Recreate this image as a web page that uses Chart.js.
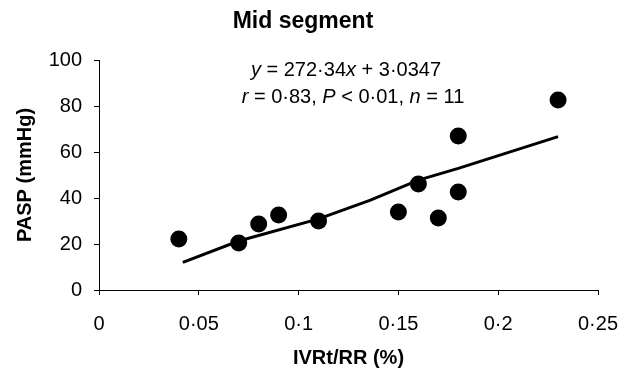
<!DOCTYPE html>
<html>
<head>
<meta charset="utf-8">
<script src="https://cdn.jsdelivr.net/npm/chart.js@4.4.1/dist/chart.umd.min.js"></script>
<style>
  html, body { margin: 0; padding: 0; background: #fff; }
  #wrap { width: 631px; height: 373px; }
</style>
</head>
<body>
<div id="wrap"><canvas id="chart" width="631" height="373"></canvas></div>
<script>
// IVRt/RR vs PASP, mid segment
const ivrtRR = [0.04, 0.07, 0.08, 0.09, 0.11, 0.15, 0.16, 0.17, 0.18, 0.18, 0.23];
const pasp = [22.2, 20.4, 28.7, 32.6, 30.0, 33.9, 46.1, 31.3, 67.0, 42.6, 82.6];

// regression line
const fitX = [0.042, 0.07, 0.11, 0.136, 0.16, 0.18, 0.23];
const fitY = [12.0, 21.3, 30.9, 39.1, 47.8, 52.9, 66.7];

const chartTitle = 'Mid segment';
const xTitle = 'IVRt/RR (%)';
const yTitle = 'PASP (mmHg)';

const FONT = '"Liberation Sans", Arial, sans-serif';

function dotFormat(v) {
  return String(Number(v.toFixed(2))).replace('.', '\u00b7');
}

// draws runs of [text, italic] left to right, centred on cx
function drawRuns(ctx, runs, cx, cy, size) {
  const fonts = runs.map(([, it]) => (it ? 'italic ' : '') + size + 'px ' + FONT);
  let total = 0;
  const widths = runs.map(([t], i) => {
    ctx.font = fonts[i];
    const w = ctx.measureText(t).width;
    total += w;
    return w;
  });
  let x = cx - total / 2;
  runs.forEach(([t], i) => {
    ctx.font = fonts[i];
    ctx.fillText(t, x, cy);
    x += widths[i];
  });
}

const annotations = {
  id: 'annotations',
  afterDraw(chart) {
    const { ctx } = chart;
    ctx.save();
    ctx.fillStyle = '#000';
    ctx.textBaseline = 'middle';
    ctx.textAlign = 'center';
    ctx.font = 'bold 23px ' + FONT;
    ctx.fillText(chartTitle, 303, 22);
    ctx.textAlign = 'left';
    drawRuns(ctx, [['y', true], [' = 272\u00b734', false], ['x', true], [' + 3\u00b70347', false]], 346, 70, 20);
    drawRuns(ctx, [['r', true], [' = 0\u00b783, ', false], ['P', true], [' < 0\u00b701, ', false], ['n', true], [' = 11', false]], 353, 97, 20);
    ctx.restore();
  },
};

new Chart(document.getElementById('chart'), {
  type: 'scatter',
  data: {
    datasets: [
      {
        label: 'PASP',
        data: ivrtRR.map((x, i) => ({ x, y: pasp[i] })),
        backgroundColor: '#000',
        borderWidth: 0,
        pointRadius: 8.5,
        pointHoverRadius: 8.5,
      },
      {
        label: 'fit',
        data: fitX.map((x, i) => ({ x, y: fitY[i] })),
        showLine: true,
        borderColor: '#000',
        borderWidth: 3,
        pointRadius: 0,
      },
    ],
  },
  options: {
    responsive: false,
    animation: false,
    layout: { padding: { top: 60, right: 33, left: 0, bottom: 0 } },
    plugins: { legend: { display: false }, tooltip: { enabled: false }, title: { display: false } },
    scales: {
      x: {
        type: 'linear',
        min: 0,
        max: 0.25,
        border: { color: '#000', width: 1 },
        grid: { drawOnChartArea: false, color: '#000', tickLength: 5 },
        ticks: {
          stepSize: 0.05,
          color: '#000',
          padding: 17,
          font: { family: FONT, size: 20 },
          callback: (v) => dotFormat(v),
        },
        title: {
          display: true,
          text: xTitle,
          color: '#000',
          font: { family: FONT, size: 20, weight: 'bold' },
          padding: { top: 0, bottom: 3 },
        },
        afterFit: (s) => {
          s.height = 83;
          s.paddingRight = 0;
          s.paddingLeft = 0;
        },
      },
      y: {
        min: 0,
        max: 100,
        border: { color: '#000', width: 1 },
        grid: { drawOnChartArea: false, color: '#000', tickLength: 5 },
        ticks: {
          stepSize: 20,
          color: '#000',
          padding: 12,
          font: { family: FONT, size: 20 },
          callback: (v) => dotFormat(v),
        },
        title: {
          display: true,
          text: yTitle,
          color: '#000',
          font: { family: FONT, size: 20, weight: 'bold' },
          padding: { top: 13, bottom: 0 },
        },
        afterFit: (s) => { s.width = 99; },
      },
    },
  },
  plugins: [annotations],
});
</script>
</body>
</html>
